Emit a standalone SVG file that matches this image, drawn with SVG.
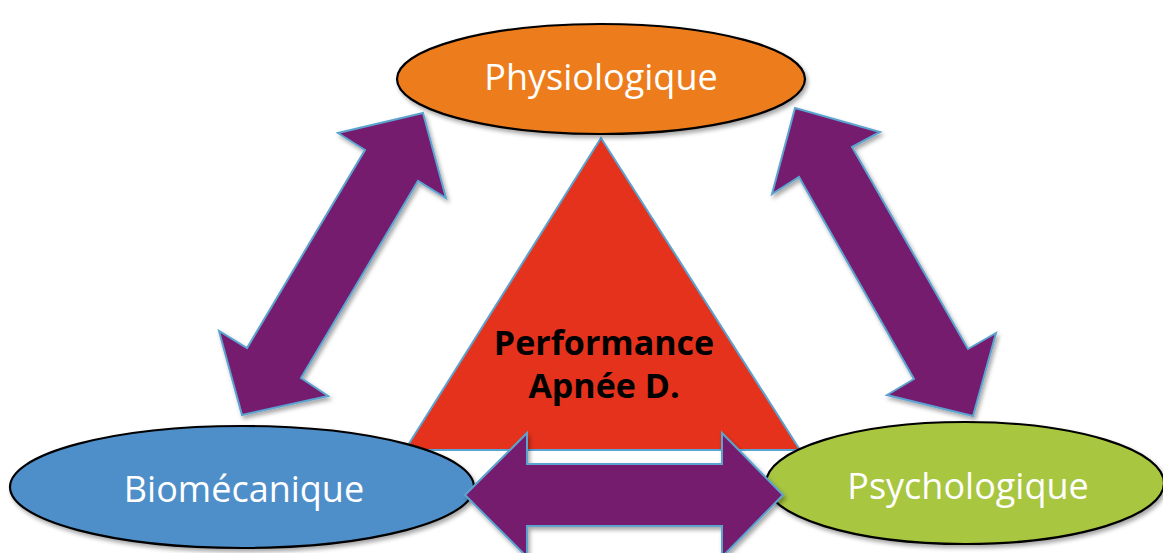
<svg xmlns="http://www.w3.org/2000/svg" width="1163" height="553" viewBox="0 0 1163 553">
<defs>
<filter id="sh" x="-10%" y="-10%" width="120%" height="130%">
<feDropShadow dx="2" dy="3" stdDeviation="2" flood-color="#000" flood-opacity="0.35"/>
</filter>
</defs>
<style>
.node{stroke:#000;stroke-width:2.2;filter:url(#sh)}
.arrow{fill:#751C6E;stroke:#5BA3D0;stroke-width:2;stroke-linejoin:miter;filter:url(#sh)}
.lbl{font-family:"Open Sans","Noto Sans",sans-serif;font-size:36px;fill:#fff;text-anchor:middle}
.ctr{font-family:"Open Sans","Noto Sans",sans-serif;font-size:34px;font-weight:bold;fill:#000;text-anchor:middle}
</style>
<rect width="1163" height="553" fill="#fff"/>
<g id="performance">
<polygon points="601,138 405,450 800,450" fill="#E5321C" stroke="#5BA3D0" stroke-width="2"/>
<text class="ctr" x="604" y="355">Performance</text>
<text class="ctr" x="604" y="398">Apnée D.</text>
</g>
<g id="physiologique">
<ellipse class="node" cx="601" cy="79" rx="204" ry="55" fill="#ED7D1F"/>
<text class="lbl" x="601" y="90">Physiologique</text>
</g>
<g id="biomecanique">
<ellipse class="node" cx="242" cy="487" rx="232" ry="61" fill="#4F8FC9"/>
<text class="lbl" x="244" y="502">Biomécanique</text>
</g>
<g id="psychologique">
<ellipse class="node" cx="965" cy="483" rx="199" ry="61" fill="#A8C63F"/>
<text class="lbl" x="968" y="499">Psychologique</text>
</g>
<g id="connectors">
<polygon class="arrow" points="423,113 446,198 418,181 301,378 328,396 242,415 219,331 247,348 365,150 338,133"/>
<polygon class="arrow" points="795,108 880,132 852,147 968,349 996,333 973,416 887,395 914,379 799,177 772,194"/>
<polygon class="arrow" points="465,495 527,433 527,464 722,464 722,433 783,495 722,557 722,526 527,526 527,557"/>
</g>
</svg>
